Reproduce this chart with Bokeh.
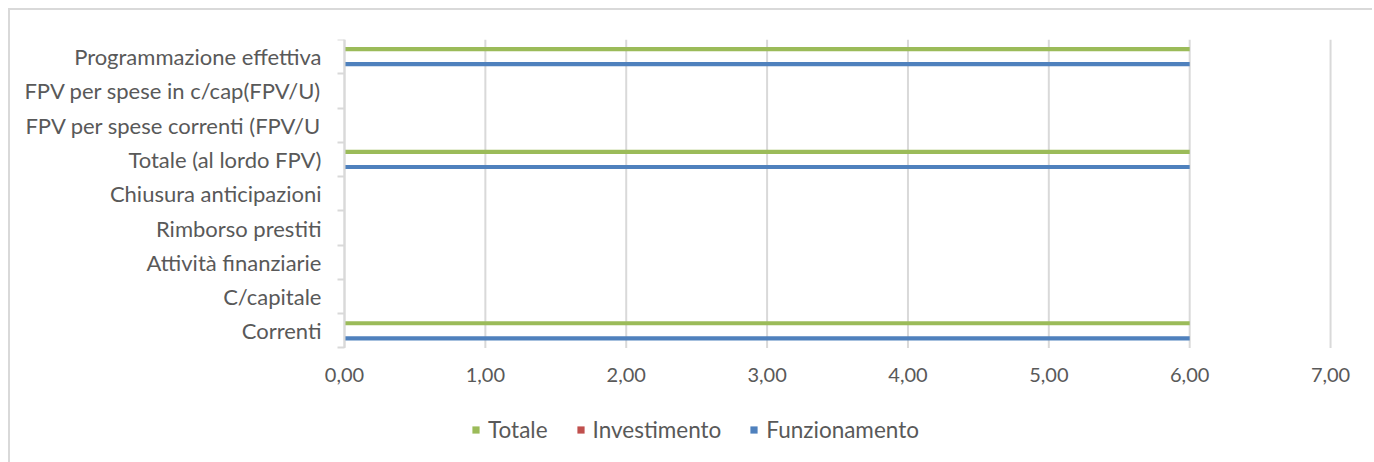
from bokeh.plotting import figure
from bokeh.models import (ColumnDataSource, FixedTicker, Legend, LegendItem, Range1d)
from bokeh.transform import dodge
from bokeh.embed import file_html
from bokeh.resources import INLINE

categories = ["Correnti", "C/capitale", "Attività finanziarie", "Rimborso prestiti",
              "Chiusura anticipazioni", "Totale (al lordo FPV)",
              "FPV per spese correnti (FPV/U", "FPV per spese in c/cap(FPV/U)",
              "Programmazione effettiva"]
funzionamento = [6, 0, 0, 0, 0, 6, 0, 0, 6]
investimento = [0, 0, 0, 0, 0, 0, 0, 0, 0]
totale = [6, 0, 0, 0, 0, 6, 0, 0, 6]
x_ticks = [0, 1, 2, 3, 4, 5, 6, 7]
x_labels = ["0,00", "1,00", "2,00", "3,00", "4,00", "5,00", "6,00", "7,00"]

FONT = "Lato"
TXT = "#595959"
GRID = "#d9d9d9"

n = len(categories)
pos = [i + 0.5 for i in range(n)]
src = ColumnDataSource(dict(pos=pos, cat=categories, f=funzionamento, i=investimento, t=totale))

p = figure(width=1364, height=454, output_backend="svg", toolbar_location=None,
           x_range=Range1d(-2.371, 7.312), y_range=Range1d(-3.40, n),
           min_border_left=0, min_border_right=0, min_border_top=29, min_border_bottom=0)
p.styles = {"margin-left": "8px", "margin-top": "8px",
            "border-top": "2px solid #d9d9d9", "border-left": "2px solid #d9d9d9"}
p.outline_line_color = None

# vertical gridlines over the category band only
p.segment(x0=x_ticks, y0=[0] * len(x_ticks), x1=x_ticks, y1=[n] * len(x_ticks),
          line_color=GRID, line_width=2)

r_t = p.hbar(y=dodge("pos", 0.22), left=0, right="t", height=0.12, source=src,
             fill_color="#9BBB59", line_color=None)
r_i = p.hbar(y=dodge("pos", 0.0), left=0, right="i", height=0.12, source=src,
             fill_color="#C0504D", line_color=None)
r_f = p.hbar(y=dodge("pos", -0.22), left=0, right="f", height=0.12, source=src,
             fill_color="#4F81BD", line_color=None)

# x axis, fixed at the bottom of the category band
p.xaxis.fixed_location = 0
p.xaxis.bounds = (x_ticks[0], x_ticks[-1])
p.xaxis.ticker = FixedTicker(ticks=x_ticks)
p.xaxis.major_label_overrides = {t: l for t, l in zip(x_ticks, x_labels)}
p.xaxis.axis_line_color = None
p.xaxis.major_tick_line_color = None
p.xaxis.minor_tick_line_color = None
p.xaxis.major_label_text_font = FONT
p.xaxis.major_label_text_font_size = "20px"
p.xaxis.major_label_text_color = TXT
p.xaxis.major_label_standoff = 14

# y axis, fixed at x = 0
p.yaxis.fixed_location = 0
p.yaxis.bounds = (0, n)
p.yaxis.ticker = FixedTicker(ticks=pos, minor_ticks=list(range(n + 1)))
p.yaxis.major_label_overrides = {v: c for v, c in zip(pos, categories)}
p.yaxis.axis_line_color = GRID
p.yaxis.axis_line_width = 2
p.yaxis.major_tick_line_color = None
p.yaxis.major_tick_out = 0
p.yaxis.major_tick_in = 0
p.yaxis.minor_tick_line_color = GRID
p.yaxis.minor_tick_line_width = 2
p.yaxis.minor_tick_out = 7
p.yaxis.minor_tick_in = 0
p.yaxis.major_label_text_font = FONT
p.yaxis.major_label_text_font_size = "22px"
p.yaxis.major_label_text_color = TXT
p.yaxis.major_label_standoff = 16

p.xgrid.grid_line_color = None
p.ygrid.grid_line_color = None

legend = Legend(items=[LegendItem(label="Totale", renderers=[r_t]),
                      LegendItem(label="Investimento", renderers=[r_i]),
                      LegendItem(label="Funzionamento", renderers=[r_f])],
                orientation="horizontal", location=(461, 21),
                label_text_font=FONT, label_text_font_size="22.5px", label_text_color=TXT,
                glyph_width=9, glyph_height=9, label_standoff=8, spacing=28,
                padding=0, margin=0, border_line_color=None, background_fill_alpha=0)
p.add_layout(legend, "center")

open("out.html", "w").write(file_html(p, INLINE))
